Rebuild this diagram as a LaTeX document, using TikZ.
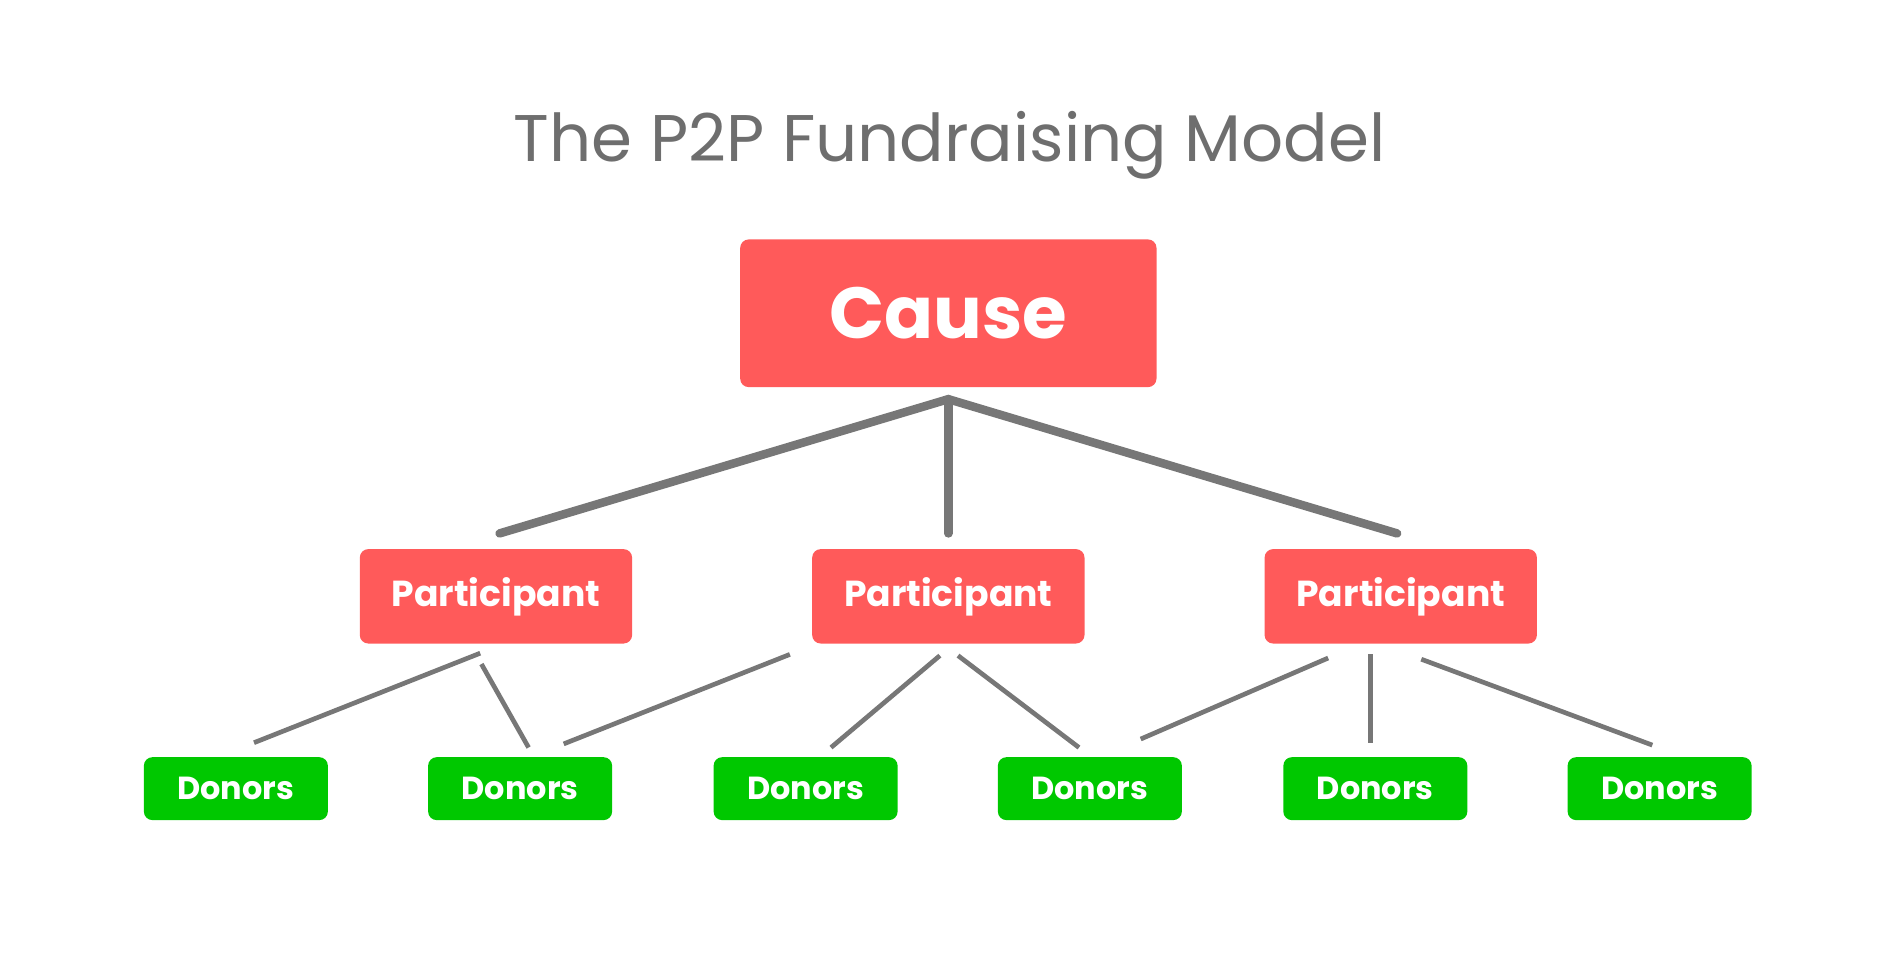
\documentclass[tikz,border=0pt]{standalone}
\usepackage{fontspec}
\setmainfont{Poppins}
\definecolor{causered}{HTML}{FF5A5A}
\definecolor{donorgreen}{HTML}{00C800}
\definecolor{linegray}{HTML}{777777}
\definecolor{titlegray}{HTML}{6E6E6E}
\tikzset{
  redbox/.style={fill=causered, rounded corners=2pt, text=white, inner sep=0pt},
  greenbox/.style={fill=donorgreen, rounded corners=2pt, text=white, inner sep=0pt, minimum width=1.52cm, minimum height=0.52cm, font=\fontsize{7.5}{9}\selectfont\bfseries},
  thick link/.style={draw=linegray, line width=2pt, line cap=round},
  thin link/.style={draw=linegray, line width=1.1pt}
}
\begin{document}
\begin{tikzpicture}[x=0.01cm,y=-0.01cm]
\useasboundingbox (0,0) rectangle (1560,804);

\node[text=titlegray, font=\fontsize{15.5}{18}\selectfont] (title) at (785,120) {The P2P Fundraising Model};

\node[redbox, minimum width=3.44cm, minimum height=1.22cm, font=\fontsize{17}{20}\selectfont\bfseries] (cause) at (784,259) {Cause};

\node[redbox, minimum width=2.25cm, minimum height=0.78cm, font=\fontsize{8.5}{10}\selectfont\bfseries] (P1) at (410,493) {Participant};
\node[redbox, minimum width=2.25cm, minimum height=0.78cm, font=\fontsize{8.5}{10}\selectfont\bfseries] (P2) at (784,493) {Participant};
\node[redbox, minimum width=2.25cm, minimum height=0.78cm, font=\fontsize{8.5}{10}\selectfont\bfseries] (P3) at (1158,493) {Participant};

\node[greenbox] (D1) at (195,652) {Donors};
\node[greenbox] (D2) at (430,652) {Donors};
\node[greenbox] (D3) at (666,652) {Donors};
\node[greenbox] (D4) at (901,652) {Donors};
\node[greenbox] (D5) at (1137,652) {Donors};
\node[greenbox] (D6) at (1372,652) {Donors};

% cause to participants
\coordinate (top) at (784,330);
\coordinate (P1t) at (413,441);
\coordinate (P2t) at (784,441);
\coordinate (P3t) at (1155,441);
\draw[thick link] (P1t) -- (top) -- (P3t);
\draw[thick link] (top) -- (P2t);

% participants to donors
\coordinate (a1) at (397,540);
\coordinate (a2) at (398,549);
\coordinate (b1) at (653,541);
\coordinate (b2) at (777,542);
\coordinate (b3) at (792,542);
\coordinate (c1) at (1098,544);
\coordinate (c2) at (1133,541);
\coordinate (c3) at (1175,545);
\coordinate (d1) at (210,614);
\coordinate (d2a) at (437,618);
\coordinate (d2b) at (466,615);
\coordinate (d3) at (687,618);
\coordinate (d4a) at (892,618);
\coordinate (d4b) at (943,611);
\coordinate (d5) at (1133,614);
\coordinate (d6) at (1366,616);

\draw[thin link] (a1) -- (d1);
\draw[thin link] (a2) -- (d2a);
\draw[thin link] (b1) -- (d2b);
\draw[thin link] (b2) -- (d3);
\draw[thin link] (b3) -- (d4a);
\draw[thin link] (c1) -- (d4b);
\draw[thin link] (c2) -- (d5);
\draw[thin link] (c3) -- (d6);
\end{tikzpicture}
\end{document}
